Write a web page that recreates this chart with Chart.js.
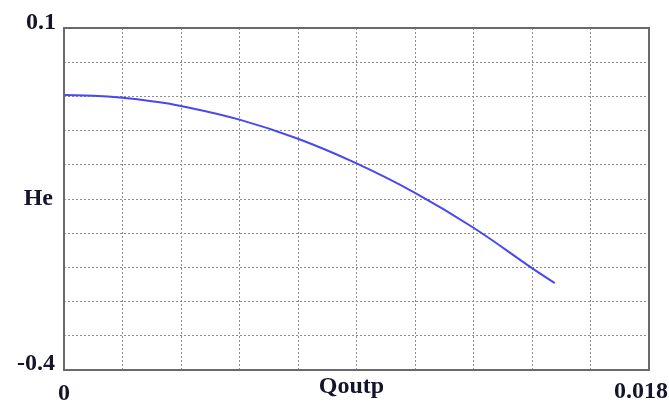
<!DOCTYPE html>
<html>
<head>
<meta charset="utf-8">
<script src="https://cdn.jsdelivr.net/npm/chart.js@4"></script>
<style>
  html, body { margin: 0; padding: 0; background: #fff; }
  #wrap { width: 669px; height: 405px; }
</style>
</head>
<body>
<div id="wrap"><canvas id="myChart" width="669" height="405"></canvas></div>
<script>
// Chart data
var qoutp = [0, 0.0009, 0.0018, 0.0027, 0.0036, 0.0054, 0.0072, 0.009, 0.0108, 0.0126, 0.0144, 0.0151];
var he = [0.002, 0.001, -0.002, -0.007, -0.014, -0.034, -0.062, -0.098, -0.141, -0.192, -0.251, -0.273];
var xTickLabels = ['0', 'Qoutp', '0.018'];
var yTickLabels = ['0.1', 'He', '-0.4'];

var labelFont = 'bold 24px "Liberation Serif", "Times New Roman", serif';
var textColor = '#14142a';

// frame + axis labels drawn from the scales
var frameLabels = {
    id: 'frameLabels',
    afterDraw: function(chart) {
        var c = chart.ctx, a = chart.chartArea;
        var xs = chart.scales.x, ys = chart.scales.y;
        c.save();
        c.strokeStyle = '#6a6a6a';
        c.lineWidth = 2;
        c.strokeRect(a.left, a.top, a.right - a.left, a.bottom - a.top);

        c.fillStyle = textColor;
        c.font = labelFont;
        c.textBaseline = 'middle';
        c.textAlign = 'right';
        c.fillText(yTickLabels[0], a.left - 8, ys.getPixelForValue(0.1) - 5);
        c.fillText(yTickLabels[1], a.left - 11, ys.getPixelForValue(-0.15));
        c.fillText(yTickLabels[2], a.left - 9, ys.getPixelForValue(-0.4) - 6);

        c.textAlign = 'center';
        c.fillText(xTickLabels[0], xs.getPixelForValue(0), a.bottom + 24);
        c.fillText(xTickLabels[1], xs.getPixelForValue(0.009) - 5, a.bottom + 17);
        c.textAlign = 'right';
        c.fillText(xTickLabels[2], chart.width - 1, a.bottom + 22);
        c.restore();
    }
};

var ctx = document.getElementById('myChart').getContext('2d');
var myChart = new Chart(ctx, {
    type: 'line',
    data: {
        datasets: [{
            label: 'He',
            data: qoutp.map(function(q, i) { return { x: q, y: he[i] }; }),
            borderColor: 'rgb(72, 72, 240)',
            borderWidth: 2,
            pointRadius: 0,
            fill: false,
            tension: 0.4
        }]
    },
    options: {
        responsive: false,
        animation: false,
        layout: { padding: { left: 64, right: 20, top: 28, bottom: 35 } },
        plugins: { legend: { display: false }, tooltip: { enabled: false } },
        scales: {
            x: {
                type: 'linear',
                min: 0,
                max: 0.018,
                ticks: { display: false, stepSize: 0.0018 },
                grid: { color: '#8e8e8e', lineWidth: 1, drawTicks: false },
                border: { display: false, dash: [2, 2] }
            },
            y: {
                min: -0.4,
                max: 0.1,
                ticks: { display: false, stepSize: 0.05 },
                grid: { color: '#8e8e8e', lineWidth: 1, drawTicks: false },
                border: { display: false, dash: [2, 2] }
            }
        }
    },
    plugins: [frameLabels]
});
</script>
</body>
</html>
